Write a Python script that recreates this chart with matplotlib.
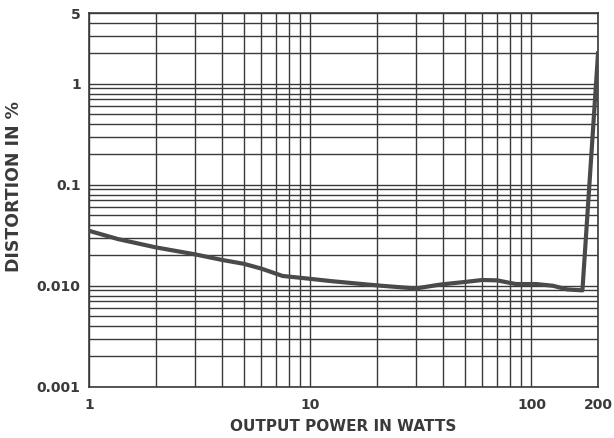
import matplotlib
matplotlib.use("Agg")
import matplotlib.pyplot as plt
from matplotlib.ticker import FixedLocator, NullFormatter

# values
power = [1, 1.35, 2, 3, 4, 5, 6, 7.5, 9, 12.5, 18, 21, 30, 39, 50, 60,
         70, 85, 105, 125, 145, 170, 200]
distortion = [0.035, 0.029, 0.024, 0.0205, 0.018, 0.0165, 0.0148, 0.0125,
              0.012, 0.0111, 0.0103, 0.0100, 0.0094, 0.0103, 0.0109, 0.0114,
              0.0113, 0.0104, 0.0104, 0.0100, 0.0092, 0.0090, 2.0]

x_ticks = [1, 10, 100, 200]
x_tick_labels = ["1", "10", "100", "200"]
y_ticks = [0.001, 0.01, 0.1, 1, 5]
y_tick_labels = ["0.001", "0.010", "0.1", "1", "5"]

# grid lines at every 1..9 step of each decade
x_grid = [m * 10 ** e for e in range(0, 3) for m in range(1, 10) if m * 10 ** e <= 200]
y_grid = [m * 10.0 ** e for e in range(-3, 1) for m in range(1, 10) if m * 10.0 ** e <= 5]

plt.rcParams['font.family'] = ['DejaVu Sans']
ink = "#3a3a3a"

fig = plt.figure(figsize=(6.14, 4.38), dpi=100)
ax = fig.add_axes([0.145, 0.117, 0.829, 0.853])

ax.set_xscale("log")
ax.set_yscale("log")
ax.set_xlim(1, 200)
ax.set_ylim(0.001, 5)

for gx in x_grid:
    ax.axvline(gx, color=ink, lw=1.0, zorder=1)
for gy in y_grid:
    ax.axhline(gy, color=ink, lw=1.0, zorder=1)

ax.plot(power, distortion, color="#4a4a4a", lw=3.0, solid_joinstyle="round", zorder=3)

ax.xaxis.set_major_locator(FixedLocator(x_ticks))
ax.set_xticklabels(x_tick_labels)
ax.yaxis.set_major_locator(FixedLocator(y_ticks))
ax.set_yticklabels(y_tick_labels)
ax.xaxis.set_minor_formatter(NullFormatter())
ax.yaxis.set_minor_formatter(NullFormatter())
ax.tick_params(which="both", length=0)
ax.tick_params(axis="x", pad=8, labelsize=10, labelcolor=ink)
ax.tick_params(axis="y", pad=6, labelsize=10, labelcolor=ink)
for lab in ax.get_xticklabels() + ax.get_yticklabels():
    lab.set_fontweight("bold")

for sp in ax.spines.values():
    sp.set_color(ink)
    sp.set_linewidth(1.2)

ax.set_xlabel("OUTPUT POWER IN WATTS", fontsize=11, fontweight="bold", color=ink, labelpad=5)
ax.set_ylabel("DISTORTION IN %", fontsize=12.5, fontweight="bold", color=ink)
ax.yaxis.set_label_coords(-0.13, 0.535)

fig.savefig("out.png", dpi=100, facecolor="white")
